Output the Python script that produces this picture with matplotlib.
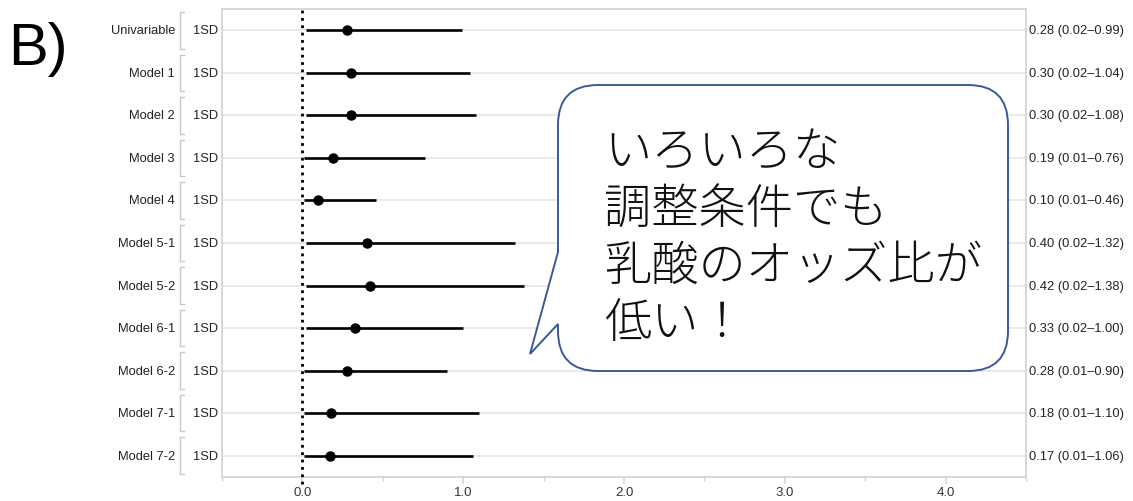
import numpy as np
import matplotlib
matplotlib.use('Agg')
import matplotlib.pyplot as plt
import matplotlib.transforms as mtransforms
from matplotlib.path import Path
from matplotlib.patches import PathPatch

labels = ['Univariable', 'Model 1', 'Model 2', 'Model 3', 'Model 4', 'Model 5-1',
          'Model 5-2', 'Model 6-1', 'Model 6-2', 'Model 7-1', 'Model 7-2']
unit = ['1SD'] * len(labels)
est = [0.28, 0.30, 0.30, 0.19, 0.10, 0.40, 0.42, 0.33, 0.28, 0.18, 0.17]
lo = [0.02, 0.02, 0.02, 0.01, 0.01, 0.02, 0.02, 0.02, 0.01, 0.01, 0.01]
hi = [0.99, 1.04, 1.08, 0.76, 0.46, 1.32, 1.38, 1.00, 0.90, 1.10, 1.06]
xticks = [0.0, 1.0, 2.0, 3.0, 4.0]
note = ['いろいろな', '調整条件でも', '乳酸のオッズ比が', '低い！']

W, H, DPI = 1133, 502, 100
fig = plt.figure(figsize=(W / DPI, H / DPI), dpi=DPI)
ax = fig.add_axes([222 / W, 1 - 478 / H, (1026 - 222) / W, (478 - 10) / H])

grey = '#d4d4d4'
txt = '#222222'
sans = 'Liberation Sans'

rows = np.arange(len(labels))

# grid and frame
ax.set_yticks(rows)
ax.set_yticklabels([])
ax.tick_params(axis='y', length=0)
ax.grid(axis='y', color='#e8e8e8', lw=1.3, zorder=0)
for s in ax.spines.values():
    s.set_color(grey)
    s.set_linewidth(1.3)

ax.set_xlim(-0.5, 4.5)
ax.set_ylim(len(labels) - 0.5, -0.5)
ax.set_xticks(xticks)
ax.set_xticklabels(['%.1f' % t for t in xticks], fontsize=9.5, color='#333333',
                   family=sans)
ax.set_xticks(np.arange(-0.5, 4.6, 0.5), minor=True)
ax.tick_params(axis='x', which='major', length=5, width=1.2, color=grey, pad=1.5)
ax.tick_params(axis='x', which='minor', length=3, width=1.0, color=grey)

# reference line at 0
ax.axvline(0, ymin=-0.015, color='black', ls=':', lw=2, zorder=3, clip_on=False)

# intervals and points
for i in rows:
    ax.plot([lo[i], hi[i]], [i, i], color='black', lw=1.9, zorder=4,
            solid_capstyle='butt')
ax.plot(est, rows, 'o', color='black', ms=6.5, zorder=5)

# left labels and brackets
trans = mtransforms.blended_transform_factory(ax.transAxes, ax.transData)
bx0, bx1 = (180 - 222) / 804, (184 - 222) / 804
for i in rows:
    ax.text((175 - 222) / 804, i, labels[i], transform=trans, ha='right',
            va='center', fontsize=9.3, color=txt, family=sans)
    ax.text((193 - 222) / 804, i, unit[i], transform=trans, ha='left',
            va='center', fontsize=9.3, color=txt, family=sans)
    ax.plot([bx1, bx0, bx0, bx1], [i - 0.43, i - 0.43, i + 0.43, i + 0.43],
            transform=trans, color='#c8c8c8', lw=1.0, clip_on=False)
    ax.text(1.0037, i, '%.2f (%.2f\u2013%.2f)' % (est[i], lo[i], hi[i]),
            transform=trans, ha='left', va='center', fontsize=9.3,
            color=txt, family=sans)

# speech bubble (pixel coords, origin top-left)
L, R, T, B, r = 558, 1008, 86, 372, 40
verts = [(L + r, T), (R - r, T), (R, T), (R, T + r), (R, B - r), (R, B), (R - r, B),
         (L + r, B), (L, B), (L, B - r), (L, 325), (530, 355), (L, 253),
         (L, T + r), (L, T), (L + r, T), (L + r, T)]
codes = [Path.MOVETO, Path.LINETO, Path.CURVE3, Path.CURVE3, Path.LINETO,
         Path.CURVE3, Path.CURVE3, Path.LINETO, Path.CURVE3, Path.CURVE3,
         Path.LINETO, Path.LINETO, Path.LINETO, Path.LINETO, Path.CURVE3,
         Path.CURVE3, Path.CLOSEPOLY]
px = mtransforms.Affine2D().scale(1 / DPI, -1 / DPI).translate(0, H / DPI) \
    + fig.dpi_scale_trans
bubble = PathPatch(Path(verts, codes), facecolor='white', edgecolor='#3a5a9a',
                   lw=1.4, transform=px, zorder=10, clip_on=False)
ax.add_patch(bubble)

for k, line in enumerate(note):
    fig.text(604 / W, 1 - (153 + 56.7 * k) / H, line, fontsize=34,
             family=['Noto Sans CJK JP', 'DejaVu Sans'], weight='light',
             ha='left', va='center', color='#111111', zorder=11)

fig.text(8 / W, 1 - 65 / H, 'B)', fontsize=43, family=sans, ha='left',
         va='baseline', color='black')

fig.savefig('out.png', dpi=DPI)
